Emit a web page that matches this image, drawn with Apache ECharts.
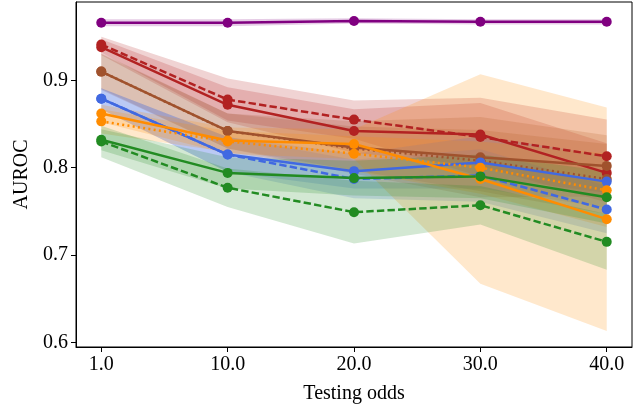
<!DOCTYPE html>
<html>
<head>
<meta charset="utf-8">
<script src="https://cdn.jsdelivr.net/npm/echarts@6/dist/echarts.min.js"></script>
<style>
  html, body { margin: 0; padding: 0; background: #fff; }
  #chart { width: 637px; height: 404px; }
</style>
</head>
<body>
<div id="chart"></div>
<script>
// x positions are plotted by index, labels shown as testing odds
const xLabels = ["1.0", "10.0", "20.0", "30.0", "40.0"];
const yTicks = [0.6, 0.7, 0.8, 0.9];

// mean AUROC per testing odds, and half-width of the shaded band
const purpleMean = [0.966, 0.966, 0.968, 0.967, 0.967];
const purpleSpread = [0.004, 0.004, 0.003, 0.003, 0.003];

const redSolidMean = [0.938, 0.872, 0.842, 0.838, 0.794];
const redSolidSpread = [0.009, 0.02, 0.025, 0.036, 0.034];
const redDashMean = [0.941, 0.878, 0.855, 0.835, 0.813];
const redDashSpread = [0.009, 0.024, 0.022, 0.045, 0.042];

const brownSolidMean = [0.910, 0.842, 0.823, 0.812, 0.802];
const brownSolidSpread = [0.021, 0.02, 0.03, 0.046, 0.035];
const brownDotMean = [0.910, 0.842, 0.822, 0.808, 0.787];
const brownDotSpread = [0.02, 0.02, 0.025, 0.035, 0.04];

const blueSolidMean = [0.879, 0.815, 0.796, 0.806, 0.784];
const blueSolidSpread = [0.012, 0.02, 0.02, 0.03, 0.03];
const blueDashMean = [0.879, 0.815, 0.787, 0.791, 0.752];
const blueDashSpread = [0.012, 0.02, 0.022, 0.03, 0.027];

const orangeSolidMean = [0.862, 0.831, 0.827, 0.787, 0.741];
const orangeSolidSpread = [0.01, 0.015, 0.017, 0.12, 0.128];
const orangeDotMean = [0.853, 0.830, 0.816, 0.800, 0.774];
const orangeDotSpread = [0.014, 0.012, 0.02, 0.03, 0.042];

const greenSolidMean = [0.832, 0.794, 0.788, 0.790, 0.766];
const greenSolidSpread = [0.012, 0.018, 0.02, 0.025, 0.03];
const greenDashMean = [0.830, 0.777, 0.749, 0.757, 0.715];
const greenDashSpread = [0.018, 0.022, 0.036, 0.022, 0.032];

const DASHED = [7.4, 3.2];
const DOTTED = [2, 3.3];

const groups = [
  { name: "purple", color: "#800080", type: "solid", mean: purpleMean, spread: purpleSpread },
  { name: "red", color: "#b22222", type: "solid", mean: redSolidMean, spread: redSolidSpread },
  { name: "red-d", color: "#b22222", type: DASHED, mean: redDashMean, spread: redDashSpread },
  { name: "brown", color: "#a0522d", type: "solid", mean: brownSolidMean, spread: brownSolidSpread },
  { name: "brown-d", color: "#a0522d", type: DOTTED, mean: brownDotMean, spread: brownDotSpread },
  { name: "blue", color: "#4169e1", type: "solid", mean: blueSolidMean, spread: blueSolidSpread },
  { name: "blue-d", color: "#4169e1", type: DASHED, mean: blueDashMean, spread: blueDashSpread },
  { name: "orange", color: "#ff8c00", type: "solid", mean: orangeSolidMean, spread: orangeSolidSpread },
  { name: "orange-d", color: "#ff8c00", type: DOTTED, mean: orangeDotMean, spread: orangeDotSpread },
  { name: "green", color: "#228b22", type: "solid", mean: greenSolidMean, spread: greenSolidSpread },
  { name: "green-d", color: "#228b22", type: DASHED, mean: greenDashMean, spread: greenDashSpread },
];

const FONT = "Liberation Serif";
const chart = echarts.init(document.getElementById("chart"));

let series = [];
// shaded bands (mean +/- spread), drawn as one polygon per group
groups.forEach((g) => {
  series.push({
    name: g.name + "-band",
    type: "custom",
    data: g.mean.map((m, i) => [i, m - g.spread[i], m + g.spread[i]]),
    encode: { x: 0, y: [1, 2] },
    renderItem: function (params, api) {
      if (params.dataIndex !== 0) return;
      const upper = g.mean.map((m, i) => api.coord([i, m + g.spread[i]]));
      const lower = g.mean.map((m, i) => api.coord([i, m - g.spread[i]])).reverse();
      return {
        type: "polygon",
        shape: { points: upper.concat(lower) },
        style: { fill: g.color, opacity: 0.2 },
      };
    },
    silent: true,
    z: 1,
  });
});
groups.forEach((g) => {
  series.push({
    name: g.name,
    type: "line",
    data: g.mean.map((m, i) => [i, m]),
    symbol: "circle",
    symbolSize: 10,
    itemStyle: { color: g.color },
    lineStyle: { color: g.color, width: 2.5, type: g.type },
    z: 3,
  });
});

let option = {
  backgroundColor: "#fff",
  animation: false,
  grid: {
    left: 76,
    right: 5,
    top: 2,
    bottom: 57,
    outerBoundsMode: "none",
    containLabel: false,
    show: true,
    borderColor: "#000",
    borderWidth: 1,
  },
  xAxis: {
    type: "value",
    min: -0.2,
    max: 4.2,
    name: "Testing odds",
    nameLocation: "middle",
    nameGap: 37,
    nameTextStyle: { fontFamily: FONT, fontSize: 20, color: "#000" },
    axisLine: { show: true, onZero: false, lineStyle: { color: "#000", width: 1 } },
    axisTick: {
      show: true,
      length: 5,
      customValues: [0, 1, 2, 3, 4],
      lineStyle: { color: "#000" },
    },
    axisLabel: {
      customValues: [0, 1, 2, 3, 4],
      formatter: (v) => xLabels[Math.round(v)],
      fontFamily: FONT,
      fontSize: 20,
      color: "#000",
      margin: 8,
    },
    splitLine: { show: false },
  },
  yAxis: {
    type: "value",
    min: 0.5946,
    max: 0.9897,
    name: "AUROC",
    nameLocation: "middle",
    nameGap: 42,
    nameTextStyle: { fontFamily: FONT, fontSize: 20, color: "#000" },
    axisLine: { show: true, onZero: false, lineStyle: { color: "#000", width: 1 } },
    axisTick: {
      show: true,
      length: 5,
      customValues: yTicks,
      lineStyle: { color: "#000" },
    },
    axisLabel: {
      customValues: yTicks,
      formatter: (v) => v.toFixed(1),
      fontFamily: FONT,
      fontSize: 20,
      color: "#000",
      margin: 8,
    },
    splitLine: { show: false },
  },
  series: series,
};
chart.setOption(option, true);
</script>
</body>
</html>
